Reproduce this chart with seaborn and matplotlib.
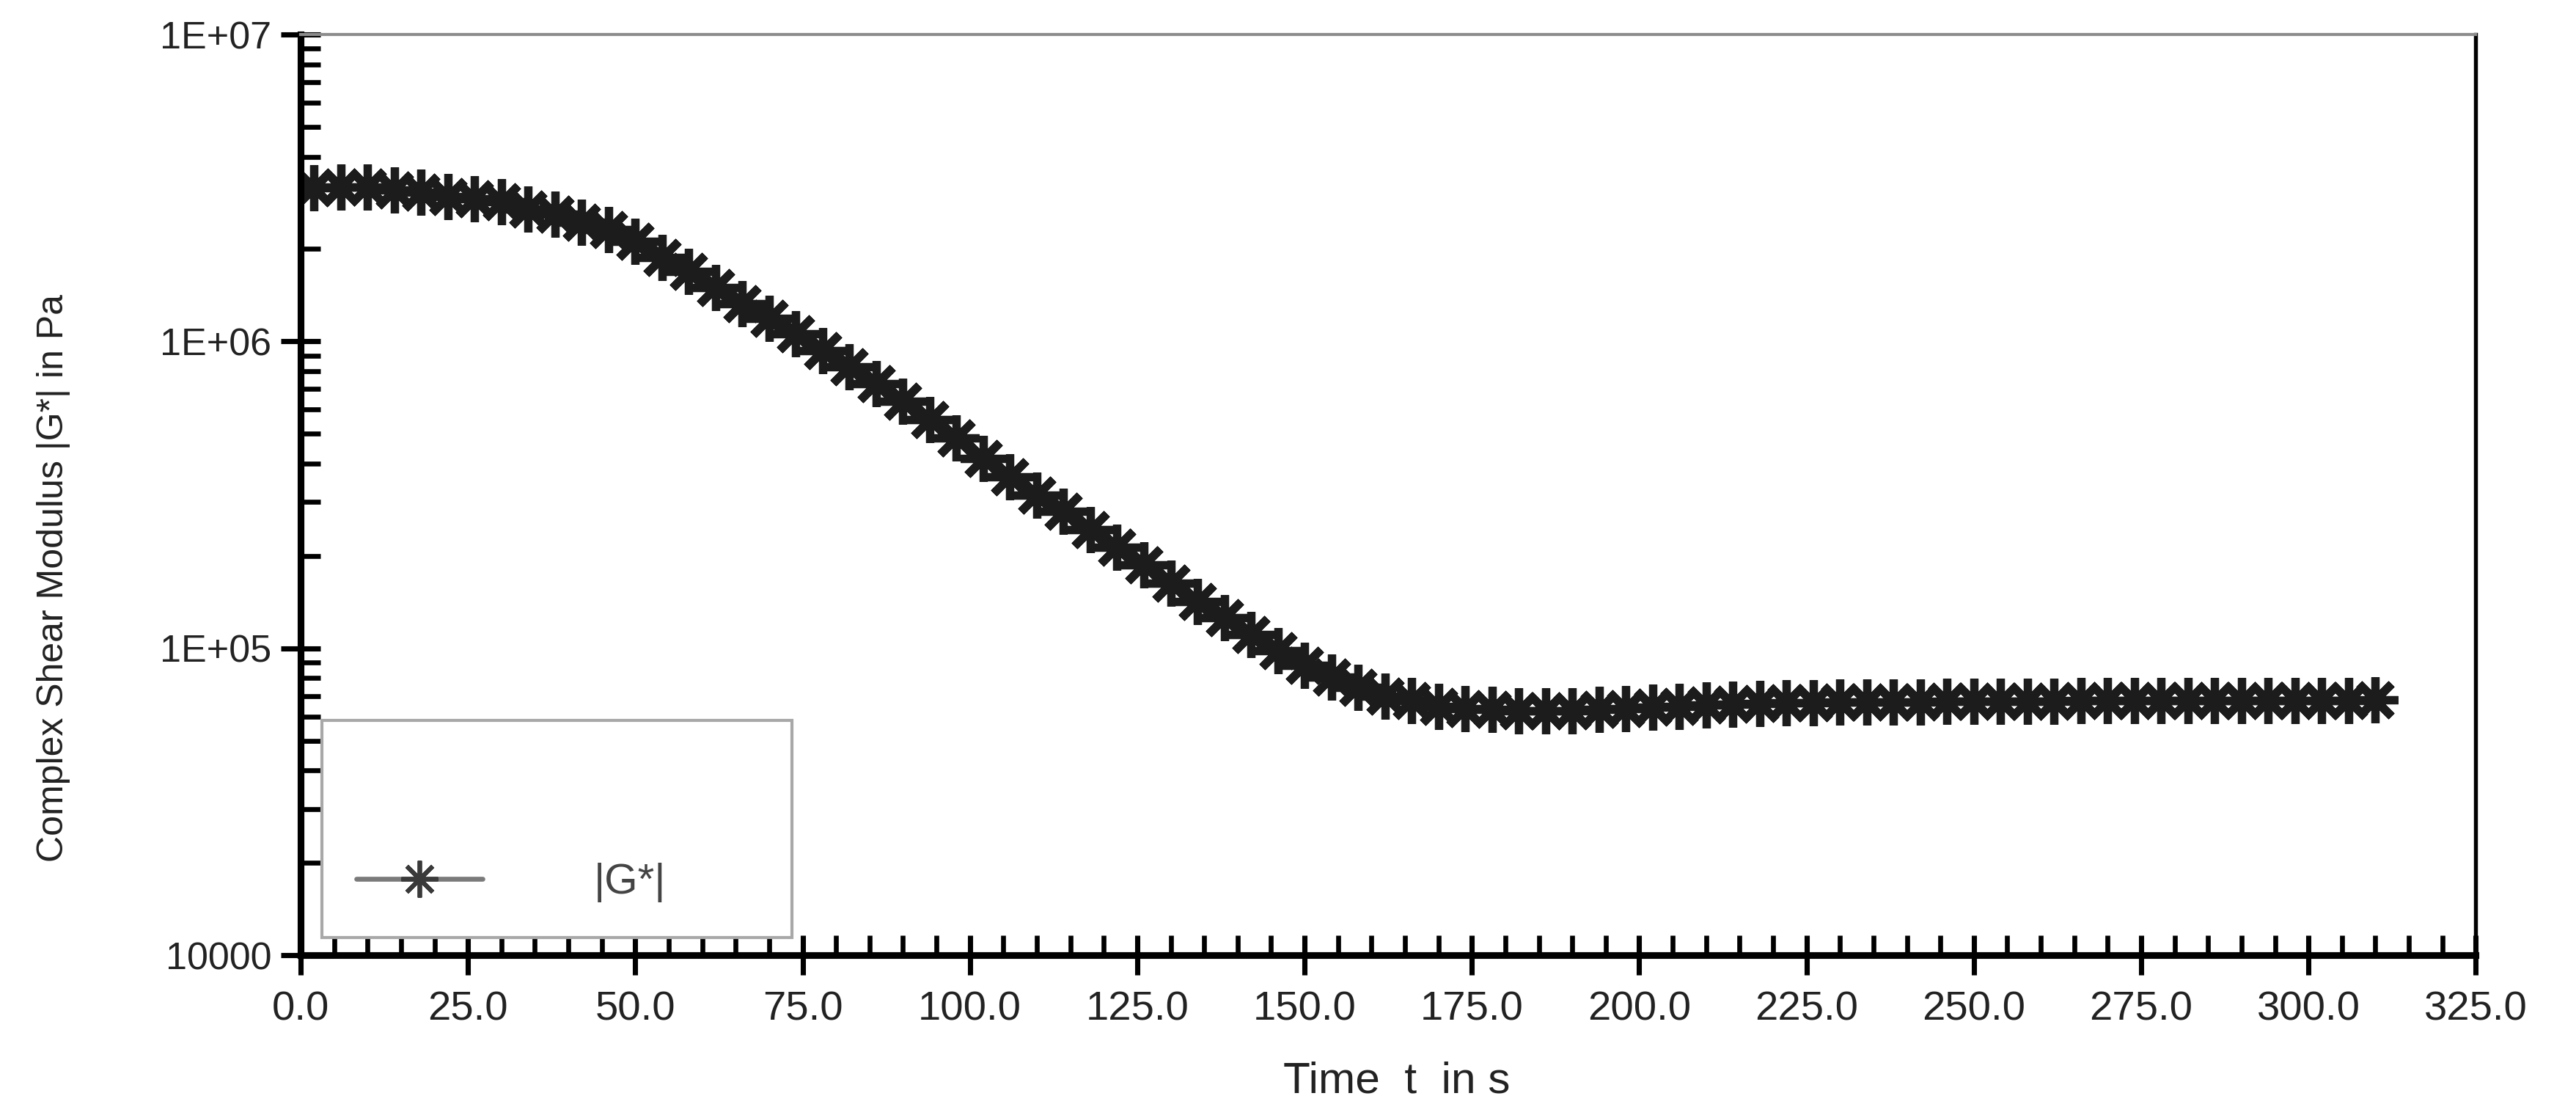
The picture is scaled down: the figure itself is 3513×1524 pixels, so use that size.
import matplotlib
matplotlib.use("Agg")
import matplotlib.pyplot as plt
from matplotlib.lines import Line2D
from matplotlib.patches import Rectangle
from matplotlib.ticker import MultipleLocator, LogLocator, NullFormatter
import seaborn as sns

# time in s and |G*| in Pa
time_s = [2, 6, 10, 14, 18, 22, 26, 30, 34, 38, 42, 46, 50, 54, 58, 62, 66, 70,
          74, 78, 82, 86, 90, 94, 98, 102, 106, 110, 114, 118, 122, 126, 130,
          134, 138, 142, 146, 150, 154, 158, 162, 166, 170, 174, 178, 182, 186,
          190, 194, 198, 202, 206, 210, 214, 218, 222, 226, 230, 234, 238, 242,
          246, 250, 254, 258, 262, 266, 270, 274, 278, 282, 286, 290, 294, 298,
          302, 306, 310]
g_star = [3.16e6, 3.18e6, 3.18e6, 3.12e6, 3.07e6, 2.97e6, 2.92e6, 2.85e6,
          2.70e6, 2.60e6, 2.44e6, 2.31e6, 2.12e6, 1.88e6, 1.69e6, 1.50e6,
          1.33e6, 1.19e6, 1.06e6, 9.31e5, 8.26e5, 7.27e5, 6.39e5, 5.57e5,
          4.86e5, 4.15e5, 3.62e5, 3.15e5, 2.80e5, 2.44e5, 2.13e5, 1.87e5,
          1.63e5, 1.42e5, 1.26e5, 1.11e5, 9.84e4, 8.81e4, 8.04e4, 7.47e4,
          7.00e4, 6.75e4, 6.48e4, 6.37e4, 6.31e4, 6.25e4, 6.27e4, 6.27e4,
          6.31e4, 6.37e4, 6.43e4, 6.48e4, 6.55e4, 6.57e4, 6.61e4, 6.64e4,
          6.66e4, 6.67e4, 6.68e4, 6.69e4, 6.70e4, 6.71e4, 6.72e4, 6.72e4,
          6.73e4, 6.73e4, 6.74e4, 6.74e4, 6.75e4, 6.75e4, 6.75e4, 6.76e4,
          6.76e4, 6.76e4, 6.77e4, 6.77e4, 6.77e4, 6.78e4]

x_ticks = [0, 25, 50, 75, 100, 125, 150, 175, 200, 225, 250, 275, 300, 325]
x_tick_labels = ["0.0", "25.0", "50.0", "75.0", "100.0", "125.0", "150.0",
                 "175.0", "200.0", "225.0", "250.0", "275.0", "300.0", "325.0"]
y_ticks = [1e4, 1e5, 1e6, 1e7]
y_tick_labels = ["10000", "1E+05", "1E+06", "1E+07"]
series_label = "|G*|"

sns.set_style("ticks")
plt.rcParams["font.family"] = ["Liberation Sans", "DejaVu Sans"]

fig = plt.figure(figsize=(3513 / 300, 1524 / 300), dpi=300)
ax = fig.add_axes([0.1167, 0.1456, 0.8444, 0.8235])

asterisk = (8, 2, 0)
sns.lineplot(x=time_s, y=g_star, ax=ax, color="#1c1c1c", lw=1.5,
             marker=asterisk, markersize=15, markeredgewidth=2.7,
             markeredgecolor="#1c1c1c", legend=False)

ax.set_yscale("log")
ax.set_xlim(0, 325)
ax.set_ylim(1e4, 1e7)

ax.set_xticks(x_ticks, labels=x_tick_labels)
ax.set_yticks(y_ticks, labels=y_tick_labels)
ax.xaxis.set_minor_locator(MultipleLocator(5))
ax.yaxis.set_minor_locator(LogLocator(base=10, subs=range(2, 10)))
ax.yaxis.set_minor_formatter(NullFormatter())

ax.tick_params(which="major", direction="inout", length=13, width=1.7,
               colors="black", labelcolor="#222222", labelsize=12.5)
ax.tick_params(axis="x", which="major", pad=5, labelsize=13.5)
ax.tick_params(axis="y", which="major", pad=3)
ax.tick_params(which="minor", direction="in", length=6.5, width=1.6,
               colors="black")
ax.tick_params(top=False, right=False, which="both")

for side in ["left", "bottom"]:
    ax.spines[side].set_linewidth(2.2)
    ax.spines[side].set_color("black")
ax.spines["right"].set_linewidth(1.3)
ax.spines["right"].set_color("black")
ax.spines["top"].set_linewidth(1.0)
ax.spines["top"].set_color("#8c8c8c")

ax.set_xlabel("Time  t  in s", fontsize=14.5, color="#222222", va="top")
ax.xaxis.set_label_coords(0.504, -0.115)
ax.set_ylabel("Complex Shear Modulus |G*| in Pa", fontsize=12,
              color="#222222")
ax.yaxis.set_label_coords(-0.106, 0.41)

# legend box drawn separately: the entry sits in its lower part
frame = Rectangle((0.0098, 0.0196), 0.2160, 0.2358, transform=ax.transAxes,
                  fill=True, facecolor="white", edgecolor="#a8a8a8",
                  lw=1.0, zorder=4)
ax.add_patch(frame)
handle = Line2D([], [], color="#7a7a7a", lw=1.6, marker=asterisk,
                markersize=12, markeredgewidth=1.4,
                markeredgecolor="#3a3a3a")
leg = ax.legend([handle], [series_label], loc="center left",
                bbox_to_anchor=(0.0257, 0.0786), frameon=False,
                borderpad=0, borderaxespad=0, handlelength=2.95,
                handletextpad=2.6, fontsize=14, labelcolor="#444444")
leg.set_zorder(5)

fig.savefig("out.png", dpi=300)
